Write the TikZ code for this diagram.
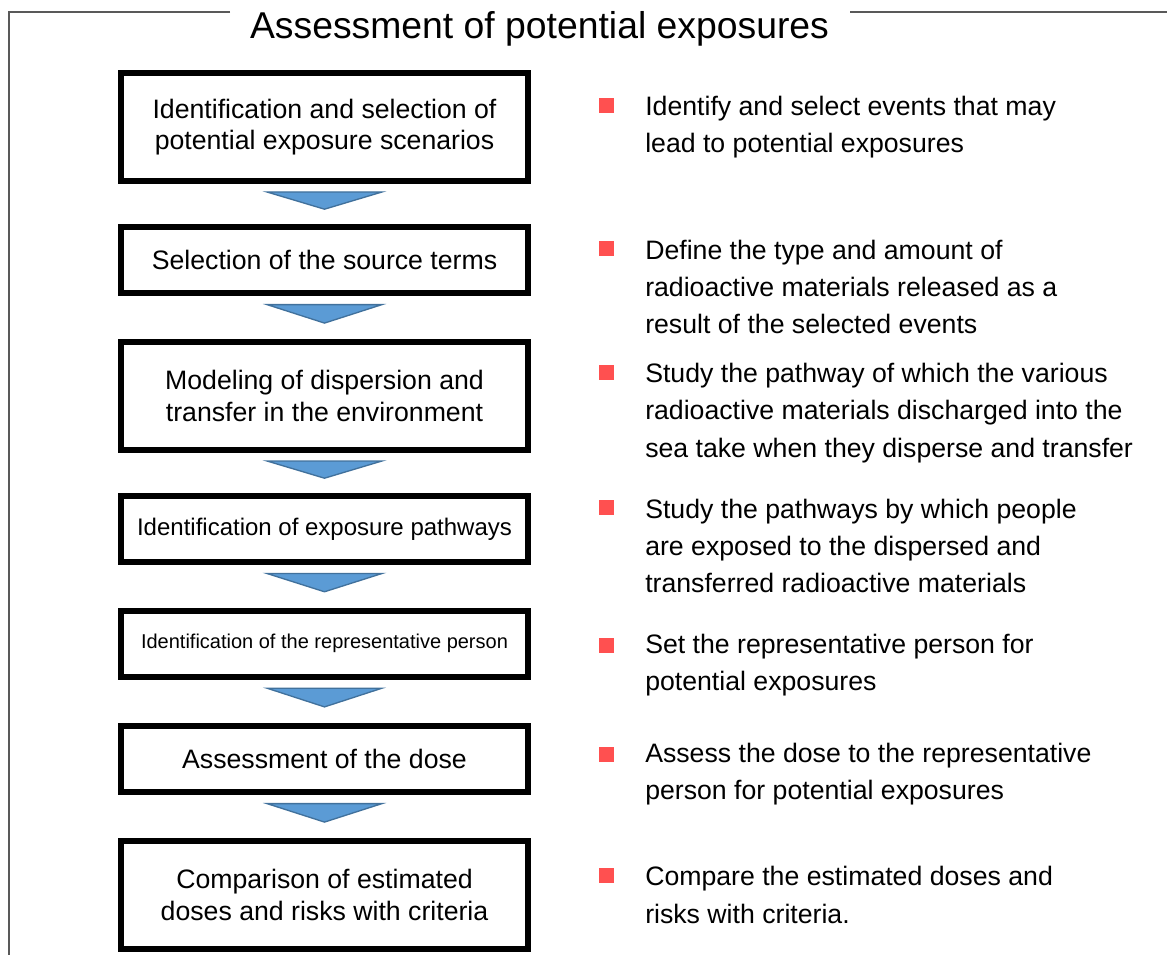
\documentclass[tikz,border=0pt]{standalone}
\usepackage{fontspec}
\setmainfont{Liberation Sans}
\usepackage{xcolor}
\usepackage{tikz}
\usetikzlibrary{calc}
\definecolor{triblue}{RGB}{91,155,213}
\definecolor{triedge}{RGB}{65,113,156}
\definecolor{bulletred}{RGB}{255,80,80}
\definecolor{framegray}{RGB}{89,89,89}
\newcommand{\flowtri}[2]{%
  \filldraw[tri] ($(#1.south)!0.2!(#2.north)+(-57.5,0)$) -- ($(#1.south)!0.2!(#2.north)+(57.5,0)$)
    -- ($(#1.south)!0.63!(#2.north)$) -- cycle;}

\begin{document}
\begin{tikzpicture}[
    x=0.75pt, y=-0.75pt,
    stage/.style={draw, line width=4.5pt, minimum width=305.25pt, minimum height=49.5pt, align=center, font=\fontsize{20}{23.5}\selectfont},
    tall/.style={stage, minimum height=81pt},
    note/.style={anchor=west, align=left, inner sep=0pt, font=\fontsize{20}{28}\selectfont},
    sq/.style={fill=bulletred, minimum size=11.25pt, inner sep=0pt},
    tri/.style={fill=triblue, draw=triedge, line width=1pt},
    frame/.style={draw=framegray, line width=1pt},
]
    \useasboundingbox (0,0) rectangle (1167,955);

    % Title and frame
    \node[font=\fontsize{28}{32}\selectfont, anchor=base] (title) at (539.5,39) {Assessment of potential exposures};
    \draw[frame] (230,12) -- (9,12) -- (9,956);
    \draw[frame] (850,12) -- (1168,12);

    % Steps
    \node[tall] (s1) at (324.5,127) {Identification and selection of\\potential exposure scenarios};
    \node[stage] (s2) at (324.5,260) {Selection of the source terms};
    \node[tall] (s3) at (324.5,396) {Modeling of dispersion and\\transfer in the environment};
    \node[stage, font=\fontsize{18}{21}\selectfont] (s4) at (324.5,529) {Identification of exposure pathways};
    \node[stage, font=\fontsize{15}{18}\selectfont] (s5) at (324.5,643.5) {Identification of the representative person};
    \node[stage] (s6) at (324.5,759) {Assessment of the dose};
    \node[tall] (s7) at (324.5,895) {Comparison of estimated\\doses and risks with criteria};

    % Notes
    \node[sq] (b1) at (606.5,106) {};
    \node[note] (n1) at (645,127) {Identify and select events that may\\lead to potential exposures};
    \node[sq] (b2) at (606.5,249) {};
    \node[note] (n2) at (645,287) {Define the type and amount of\\radioactive materials released as a\\result of the selected events};
    \node[sq] (b3) at (606.5,373) {};
    \node[note] (n3) at (645,413) {Study the pathway of which the various\\radioactive materials discharged into the\\sea take when they disperse and transfer};
    \node[sq] (b4) at (606.5,507) {};
    \node[note] (n4) at (645,546) {Study the pathways by which people\\are exposed to the dispersed and\\transferred radioactive materials};
    \node[sq] (b5) at (606.5,645) {};
    \node[note] (n5) at (645,665) {Set the representative person for\\potential exposures};
    \node[sq] (b6) at (606.5,754) {};
    \node[note] (n6) at (645,774) {Assess the dose to the representative\\person for potential exposures};
    \node[sq] (b7) at (606.5,875) {};
    \node[note] (n7) at (645,895) {Compare the estimated doses and\\risks with criteria.};

    % Flow
    \flowtri{s1}{s2}
    \flowtri{s2}{s3}
    \flowtri{s3}{s4}
    \flowtri{s4}{s5}
    \flowtri{s5}{s6}
    \flowtri{s6}{s7}
\end{tikzpicture}
\end{document}
